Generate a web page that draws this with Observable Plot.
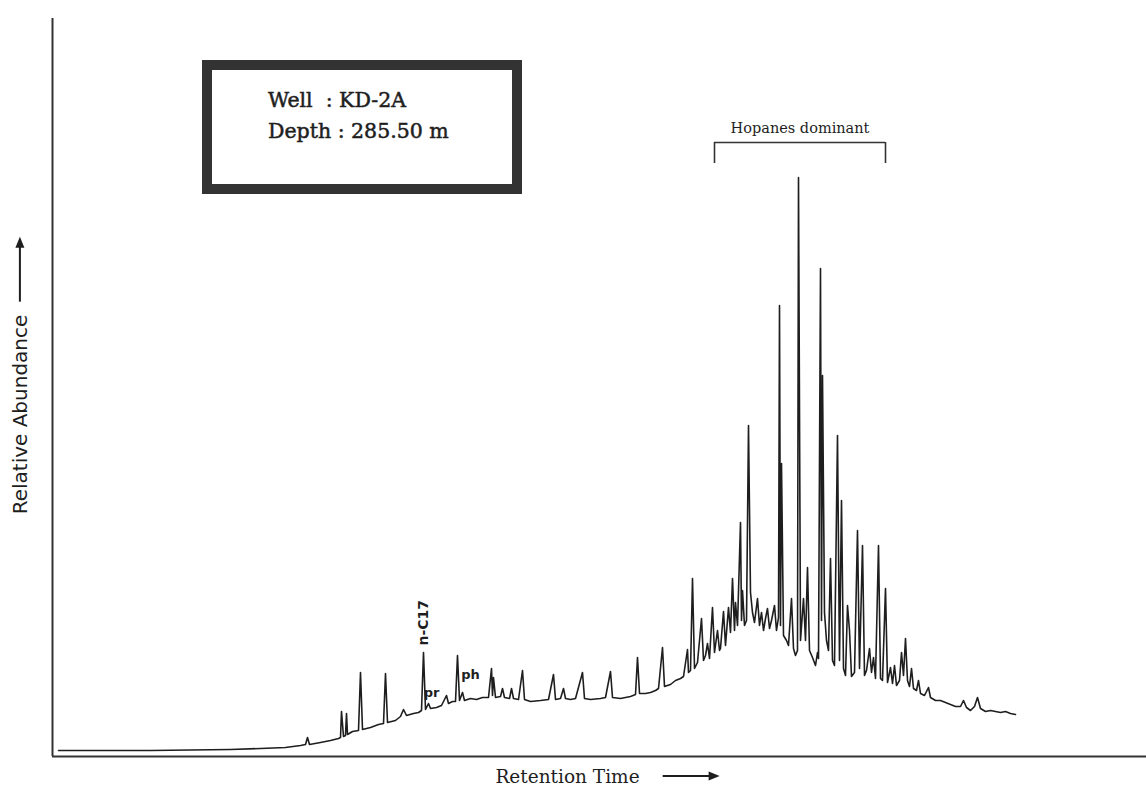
<!DOCTYPE html>
<html>
<head>
<meta charset="utf-8">
<script src="https://cdn.jsdelivr.net/npm/d3@7"></script>
<script src="https://cdn.jsdelivr.net/npm/@observablehq/plot@0.6"></script>
<style>
  body { margin: 0; background: #fff; }
  #chart { position: relative; width: 1146px; height: 787px; }
  #well {
    position: absolute; left: 202px; top: 60px; width: 320px; height: 134px;
    box-sizing: border-box; border: 10px solid #333; background: #fff;
    font-family: "DejaVu Serif", serif; font-size: 20.5px; line-height: 20px; color: #1e1e1e;
    -webkit-text-stroke: 0.5px #1e1e1e;
  }
  #well div { position: absolute; left: 56px; white-space: pre; }
</style>
</head>
<body>
<div id="chart">
  <div id="well"><div style="top:20px">Well  : KD-2A</div><div style="top:51px">Depth : 285.50 m</div></div>
</div>
<script>
// Total ion chromatogram of the saturate fraction, KD-2A @ 285.50 m
// retention time (min) and detector response (mV)
const retentionTime = [
  0.30, 4.90, 8.90, 10.40, 11.65, 12.40, 12.65, 12.75, 12.85, 13.40, 13.90, 14.30, 14.40, 14.45, 14.55,
  14.65, 14.70, 14.75, 15.00, 15.30, 15.40, 15.50, 15.90, 16.30, 16.55, 16.65, 16.75, 17.15, 17.40, 17.55,
  17.70, 18.05, 18.30, 18.45, 18.55, 18.65, 18.80, 18.90, 19.20, 19.45, 19.70, 19.80, 20.00, 20.15, 20.25,
  20.35, 20.50, 20.60, 20.90, 21.20, 21.50, 21.80, 21.95, 22.00, 22.05, 22.15, 22.40, 22.50, 22.60, 22.85,
  22.95, 23.05, 23.30, 23.50, 23.60, 23.90, 24.40, 24.80, 25.05, 25.15, 25.40, 25.55, 25.65, 25.90, 26.15,
  26.50, 26.60, 26.90, 27.40, 27.65, 27.90, 28.00, 28.40, 28.90, 29.15, 29.25, 29.35, 29.65, 29.90, 30.15,
  30.30, 30.50, 30.60, 30.90, 31.15, 31.40, 31.55, 31.75, 31.80, 31.90, 32.00, 32.10, 32.25, 32.45, 32.55,
  32.65, 32.75, 32.85, 33.00, 33.10, 33.25, 33.35, 33.40, 33.55, 33.65, 33.80, 33.90, 34.00, 34.10, 34.15,
  34.25, 34.40, 34.45, 34.50, 34.60, 34.70, 34.80, 34.90, 35.00, 35.10, 35.25, 35.35, 35.45, 35.55, 35.65,
  35.75, 35.85, 35.95, 36.10, 36.20, 36.30, 36.35, 36.40, 36.45, 36.55, 36.70, 36.80, 36.95, 37.05, 37.15,
  37.25, 37.30, 37.40, 37.55, 37.65, 37.75, 37.85, 38.00, 38.15, 38.25, 38.30, 38.40, 38.45, 38.50, 38.60,
  38.70, 38.80, 38.90, 39.00, 39.10, 39.25, 39.35, 39.45, 39.55, 39.65, 39.75, 39.85, 39.95, 40.10, 40.25,
  40.35, 40.50, 40.60, 40.70, 40.85, 40.95, 41.05, 41.15, 41.30, 41.40, 41.50, 41.65, 41.75, 41.90, 42.00,
  42.10, 42.20, 42.35, 42.45, 42.55, 42.65, 42.75, 42.85, 42.95, 43.05, 43.20, 43.30, 43.40, 43.60, 43.80,
  43.90, 44.15, 44.40, 44.65, 44.90, 45.15, 45.40, 45.55, 45.70, 45.90, 46.10, 46.25, 46.40, 46.65, 46.90,
  47.15, 47.40, 47.65, 47.90, 48.15
];
const response = [
  1.2, 1.2, 1.4, 1.6, 1.8, 2.2, 2.4, 3.8, 2.4, 2.8, 3.2, 3.6, 3.8, 9.0, 4.0,
  4.2, 8.6, 4.4, 5.0, 5.2, 16.8, 5.4, 5.8, 6.4, 6.6, 16.6, 6.8, 7.2, 8.0, 9.4,
  8.2, 8.6, 8.8, 9.2, 20.8, 9.4, 10.6, 9.6, 9.8, 10.2, 12.2, 10.6, 11.0, 11.0, 20.2,
  11.2, 12.8, 11.2, 11.6, 11.4, 11.8, 11.8, 17.6, 12.2, 15.8, 11.8, 12.0, 13.6, 11.8, 11.6,
  13.6, 11.6, 11.4, 17.2, 11.4, 11.0, 11.2, 11.4, 16.4, 11.4, 11.6, 13.6, 11.6, 11.4, 11.6,
  16.8, 11.6, 11.4, 11.6, 11.8, 17.0, 11.8, 11.6, 12.0, 12.4, 19.8, 12.6, 12.6, 12.8, 13.2,
  13.6, 21.8, 14.0, 14.4, 15.2, 15.6, 16.0, 21.4, 16.8, 17.2, 35.6, 17.6, 18.8, 27.6, 19.2,
  20.2, 22.6, 19.6, 29.8, 20.8, 25.2, 21.2, 21.6, 29.0, 22.2, 29.8, 24.8, 35.6, 25.2, 30.8,
  26.2, 46.8, 27.2, 33.2, 26.2, 27.2, 66.2, 32.8, 28.8, 26.8, 31.6, 26.2, 28.8, 25.2, 27.6,
  29.6, 25.6, 27.2, 30.2, 25.2, 27.8, 90.2, 26.2, 58.6, 24.2, 23.2, 22.2, 31.6, 21.6, 20.2,
  21.2, 115.8, 23.2, 31.6, 23.2, 37.8, 21.2, 19.8, 18.2, 20.8, 19.6, 97.6, 27.2, 76.2, 28.8,
  23.2, 21.2, 39.6, 19.2, 18.2, 64.2, 19.2, 51.2, 17.6, 16.2, 30.2, 25.2, 16.0, 16.8, 45.2,
  17.6, 42.2, 16.2, 17.2, 21.6, 16.8, 19.8, 15.6, 42.2, 15.6, 15.2, 33.6, 14.8, 17.8, 14.6,
  18.2, 14.2, 15.2, 20.8, 16.2, 23.6, 15.2, 14.0, 17.6, 13.6, 13.2, 15.2, 12.6, 12.2, 13.8,
  11.8, 11.2, 11.2, 10.8, 10.4, 10.0, 10.0, 11.2, 9.8, 9.2, 10.0, 11.8, 9.6, 9.0, 9.2,
  9.0, 8.8, 9.0, 8.6, 8.4
];

// identified compounds (n-alkane C17, pristane, phytane)
const peakNames = ["n-C17", "pr", "ph"];
const peakTimes = [18.55, 18.80, 20.50];

// elution window in which hopanes dominate (min)
const hopaneWindow = [33.10, 41.65];
const hopaneLabel = "Hopanes dominant";

const trace = retentionTime.map((t, i) => ({t, v: response[i]}));
const peaks = peakNames.map((name, i) => ({
  name, t: peakTimes[i], v: response[retentionTime.indexOf(peakTimes[i])]
}));
const bracketLevel = d3.max(response) + 7;

const ink = "#1e1e1e";
const labelFont = {fontFamily: "DejaVu Sans", fontWeight: "bold", fontSize: 13, fill: ink};

const plot = Plot.plot({
  width: 1146,
  height: 787,
  marginLeft: 52,
  marginRight: 0,
  marginTop: 14,
  marginBottom: 31,
  x: {domain: [0, 54.7], axis: null},
  y: {domain: [0, 148.4], axis: null},
  marks: [
    Plot.ruleX([0], {stroke: "#333", strokeWidth: 2, y1: 0, y2: 148.4, insetBottom: -4}),
    Plot.ruleY([0], {stroke: "#333", strokeWidth: 2}),
    Plot.line(trace, {x: "t", y: "v", stroke: ink, strokeWidth: 1.6, strokeLinejoin: "round"}),
    // hopane bracket
    Plot.ruleY([bracketLevel], {x1: hopaneWindow[0], x2: hopaneWindow[1], stroke: "#333", strokeWidth: 1.6}),
    Plot.ruleX(hopaneWindow, {y1: bracketLevel, y2: bracketLevel - 4.2, stroke: "#333", strokeWidth: 1.6}),
    Plot.text([hopaneLabel], {
      x: d3.mean(hopaneWindow), y: bracketLevel, dy: -10, lineAnchor: "bottom",
      fontFamily: "DejaVu Serif", fontSize: 14.5, fill: ink
    }),
    // compound labels
    Plot.text(peaks.slice(0, 1), {
      x: "t", y: "v", text: "name", rotate: -90, textAnchor: "start", dy: -7,
      ...labelFont, fontSize: 14
    }),
    Plot.text(peaks.slice(1, 2), {x: "t", y: "v", text: "name", dx: 3, dy: -11, ...labelFont}),
    Plot.text(peaks.slice(2, 3), {x: "t", y: "v", text: "name", dx: 8, dy: -18, ...labelFont}),
    // axis titles
    Plot.text(["Retention Time"], {
      frameAnchor: "bottom", dx: -32, dy: 26, lineAnchor: "bottom",
      fontFamily: "DejaVu Serif", fontSize: 18.5, fill: ink
    }),
    Plot.text(["Relative Abundance"], {
      frameAnchor: "left", rotate: -90, dx: -32, dy: 29, textAnchor: "middle", lineAnchor: "middle",
      fontFamily: "DejaVu Sans", fontSize: 20, fill: ink
    })
  ]
});

const chart = document.getElementById("chart");
chart.insertBefore(plot, chart.firstChild);
plot.style.position = "absolute";
plot.style.left = "0";
plot.style.top = "0";

// direction arrows next to the axis titles
const svg = d3.select(plot);
const origin = plot.getBoundingClientRect();
function titleBox(label) {
  const node = svg.selectAll("text").filter(function () { return this.textContent === label; }).node();
  const r = node.getBoundingClientRect();
  return {left: r.left - origin.left, right: r.right - origin.left, top: r.top - origin.top,
          bottom: r.bottom - origin.top};
}
const xb = titleBox("Retention Time");
const xy = (xb.top + xb.bottom) / 2;
const x0 = xb.right + 23, x1 = xb.right + 80;
svg.append("line").attr("x1", x0).attr("x2", x1 - 9).attr("y1", xy).attr("y2", xy)
  .attr("stroke", ink).attr("stroke-width", 2);
svg.append("path").attr("d", `M${x1},${xy}L${x1 - 11},${xy - 4.5}L${x1 - 11},${xy + 4.5}Z`).attr("fill", ink);

const yb = titleBox("Relative Abundance");
const yx = (yb.left + yb.right) / 2;
const y0 = yb.top - 13, y1 = yb.top - 78;
svg.append("line").attr("x1", yx).attr("x2", yx).attr("y1", y0).attr("y2", y1 + 9)
  .attr("stroke", ink).attr("stroke-width", 2);
svg.append("path").attr("d", `M${yx},${y1}L${yx - 4.5},${y1 + 11}L${yx + 4.5},${y1 + 11}Z`).attr("fill", ink);
</script>
</body>
</html>
